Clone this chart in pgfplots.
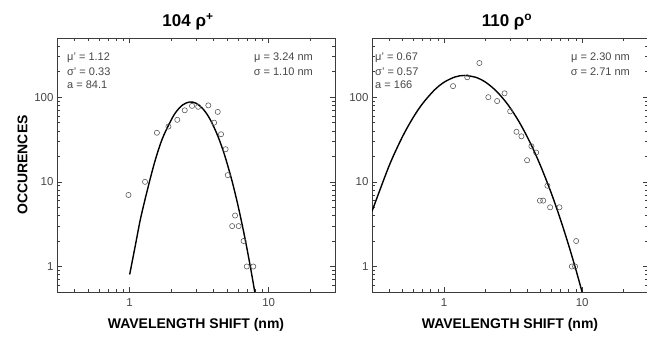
\documentclass[border=0pt]{standalone}
\usepackage{fontspec}
\setmainfont{Liberation Sans}
\usepackage{pgfplots}
\pgfplotsset{compat=1.18}
\definecolor{axgray}{RGB}{60,60,60}
\definecolor{txtgray}{RGB}{70,70,70}
\definecolor{mkgray}{RGB}{80,80,80}
\tikzset{annot/.style={font=\fontsize{11}{13}\selectfont, text=txtgray, inner sep=0pt}}
\begin{document}
\begin{tikzpicture}
\useasboundingbox (0,0) rectangle (647pt,337pt);
% ---------- left panel ----------
\begin{axis}[at={(57pt,45pt)}, anchor=south west, width=278pt,
    xmode=log, ymode=log, scale only axis, height=254pt,
    xmin=0.3, xmax=30, ymin=0.5, ymax=500,
    xtick={1,10}, xticklabels={1,10},
    ytick={1,10,100}, yticklabels={1,10,100},
    minor xtick={0.3,0.4,0.5,0.6,0.7,0.8,0.9,2,3,4,5,6,7,8,9,20,30},
    minor ytick={0.5,0.6,0.7,0.8,0.9,2,3,4,5,6,7,8,9,20,30,40,50,60,70,80,90,200,300,400,500},
    tick align=inside, major tick length=5pt, minor tick length=3pt,
    axis line style={axgray, line width=0.8pt},
    every tick/.style={axgray, line width=0.6pt},
    tick label style={font=\fontsize{11.5}{13}\selectfont, text=txtgray},
    xticklabel style={yshift=-3pt},
    xlabel={\textbf{WAVELENGTH SHIFT (nm)}},
    xlabel style={font=\fontsize{14}{16}\selectfont, yshift=-5pt},
  ylabel={\textbf{OCCURENCES}},
  ylabel style={font=\fontsize{14}{16}\selectfont}]
\addplot[black, line width=1.4pt, no marks, smooth] coordinates {
(1.0,0.805) (1.1,1.8) (1.2,3.75) (1.35,8.4) (1.5,16.3) (1.65,27) (1.8,38.6) (2.1,63.0) (2.4,80.8)
(2.7,87.7) (3.0,84.8) (3.4,71.4) (3.8,54.3) (4.3,35.0) (4.8,21.1) (5.4,10.83)
(6.0,5.35) (6.7,2.295) (7.4,0.972) (8.0,0.466)};
\addplot[only marks, mark=o, mark size=2.6pt, mark options={mkgray, line width=0.55pt}] coordinates {
(0.98,7) (1.29,10) (1.57,38) (1.90,45) (2.20,54) (2.49,70) (2.81,79) (3.11,77)
(3.68,80) (4.30,67) (4.05,50) (4.54,36.5) (4.90,24.3) (5.08,12) (5.73,4)
(5.46,3) (6.08,3) (6.6,2) (6.96,1) (7.75,1)};
\node[annot, anchor=west] at (rel axis cs:0.036,0.921) {μ' = 1.12};
\node[annot, anchor=west] at (rel axis cs:0.036,0.866) {σ' = 0.33};
\node[annot, anchor=west] at (rel axis cs:0.036,0.815) {a = 84.1};
\node[annot, anchor=east] at (rel axis cs:0.921,0.921) {μ = 3.24 nm};
\node[annot, anchor=east] at (rel axis cs:0.921,0.866) {σ = 1.10 nm};
\end{axis}
% ---------- right panel ----------
\begin{axis}[at={(372pt,45pt)}, anchor=south west, width=276pt,
    xmode=log, ymode=log, scale only axis, height=254pt,
    xmin=0.3, xmax=30, ymin=0.5, ymax=500,
    xtick={1,10}, xticklabels={1,10},
    ytick={1,10,100}, yticklabels={1,10,100},
    minor xtick={0.3,0.4,0.5,0.6,0.7,0.8,0.9,2,3,4,5,6,7,8,9,20,30},
    minor ytick={0.5,0.6,0.7,0.8,0.9,2,3,4,5,6,7,8,9,20,30,40,50,60,70,80,90,200,300,400,500},
    tick align=inside, major tick length=5pt, minor tick length=3pt,
    axis line style={axgray, line width=0.8pt},
    every tick/.style={axgray, line width=0.6pt},
    tick label style={font=\fontsize{11.5}{13}\selectfont, text=txtgray},
    xticklabel style={yshift=-3pt},
    xlabel={\textbf{WAVELENGTH SHIFT (nm)}},
    xlabel style={font=\fontsize{14}{16}\selectfont, yshift=-5pt}]
\addplot[black, line width=1.4pt, no marks, smooth] coordinates {
(0.3,4.49) (0.4,15.6) (0.5,34.4) (0.6,58.5) (0.7,84.6) (0.85,121.5) (1.0,150.4)
(1.2,173.4) (1.4,180.6) (1.7,171.3) (2.0,149.9) (2.4,117.1) (2.9,81.4) (3.5,50.8)
(4.2,29.0) (5.0,15.4) (6.0,7.21) (7.0,3.50) (8.0,1.763) (9.0,0.921) (10.0,0.496) (10.3,0.415)};
\addplot[only marks, mark=o, mark size=2.6pt, mark options={mkgray, line width=0.55pt}] coordinates {
(1.16,135) (1.47,172) (1.80,253) (2.09,100) (2.42,90) (2.74,111) (3.01,68)
(3.34,39) (3.63,34.5) (3.99,18) (4.29,26.3) (4.64,22.2) (5.60,9) (4.94,6)
(5.22,6) (5.86,5) (6.85,5) (9.05,2) (8.42,1) (8.89,1)};
\node[annot, anchor=west] at (rel axis cs:0.011,0.921) {μ' = 0.67};
\node[annot, anchor=west] at (rel axis cs:0.011,0.866) {σ' = 0.57};
\node[annot, anchor=west] at (rel axis cs:0.011,0.815) {a = 166};
\node[annot, anchor=east] at (rel axis cs:0.935,0.921) {μ = 2.30 nm};
\node[annot, anchor=east] at (rel axis cs:0.935,0.866) {σ = 2.71 nm};
\end{axis}
% titles
\node[font=\fontsize{17}{19}\selectfont\bfseries] at (188pt,315pt) {104 ρ\textsuperscript{+}};
\node[font=\fontsize{17}{19}\selectfont\bfseries] at (507pt,315pt) {110 ρ\textsuperscript{o}};
\end{tikzpicture}
\end{document}
